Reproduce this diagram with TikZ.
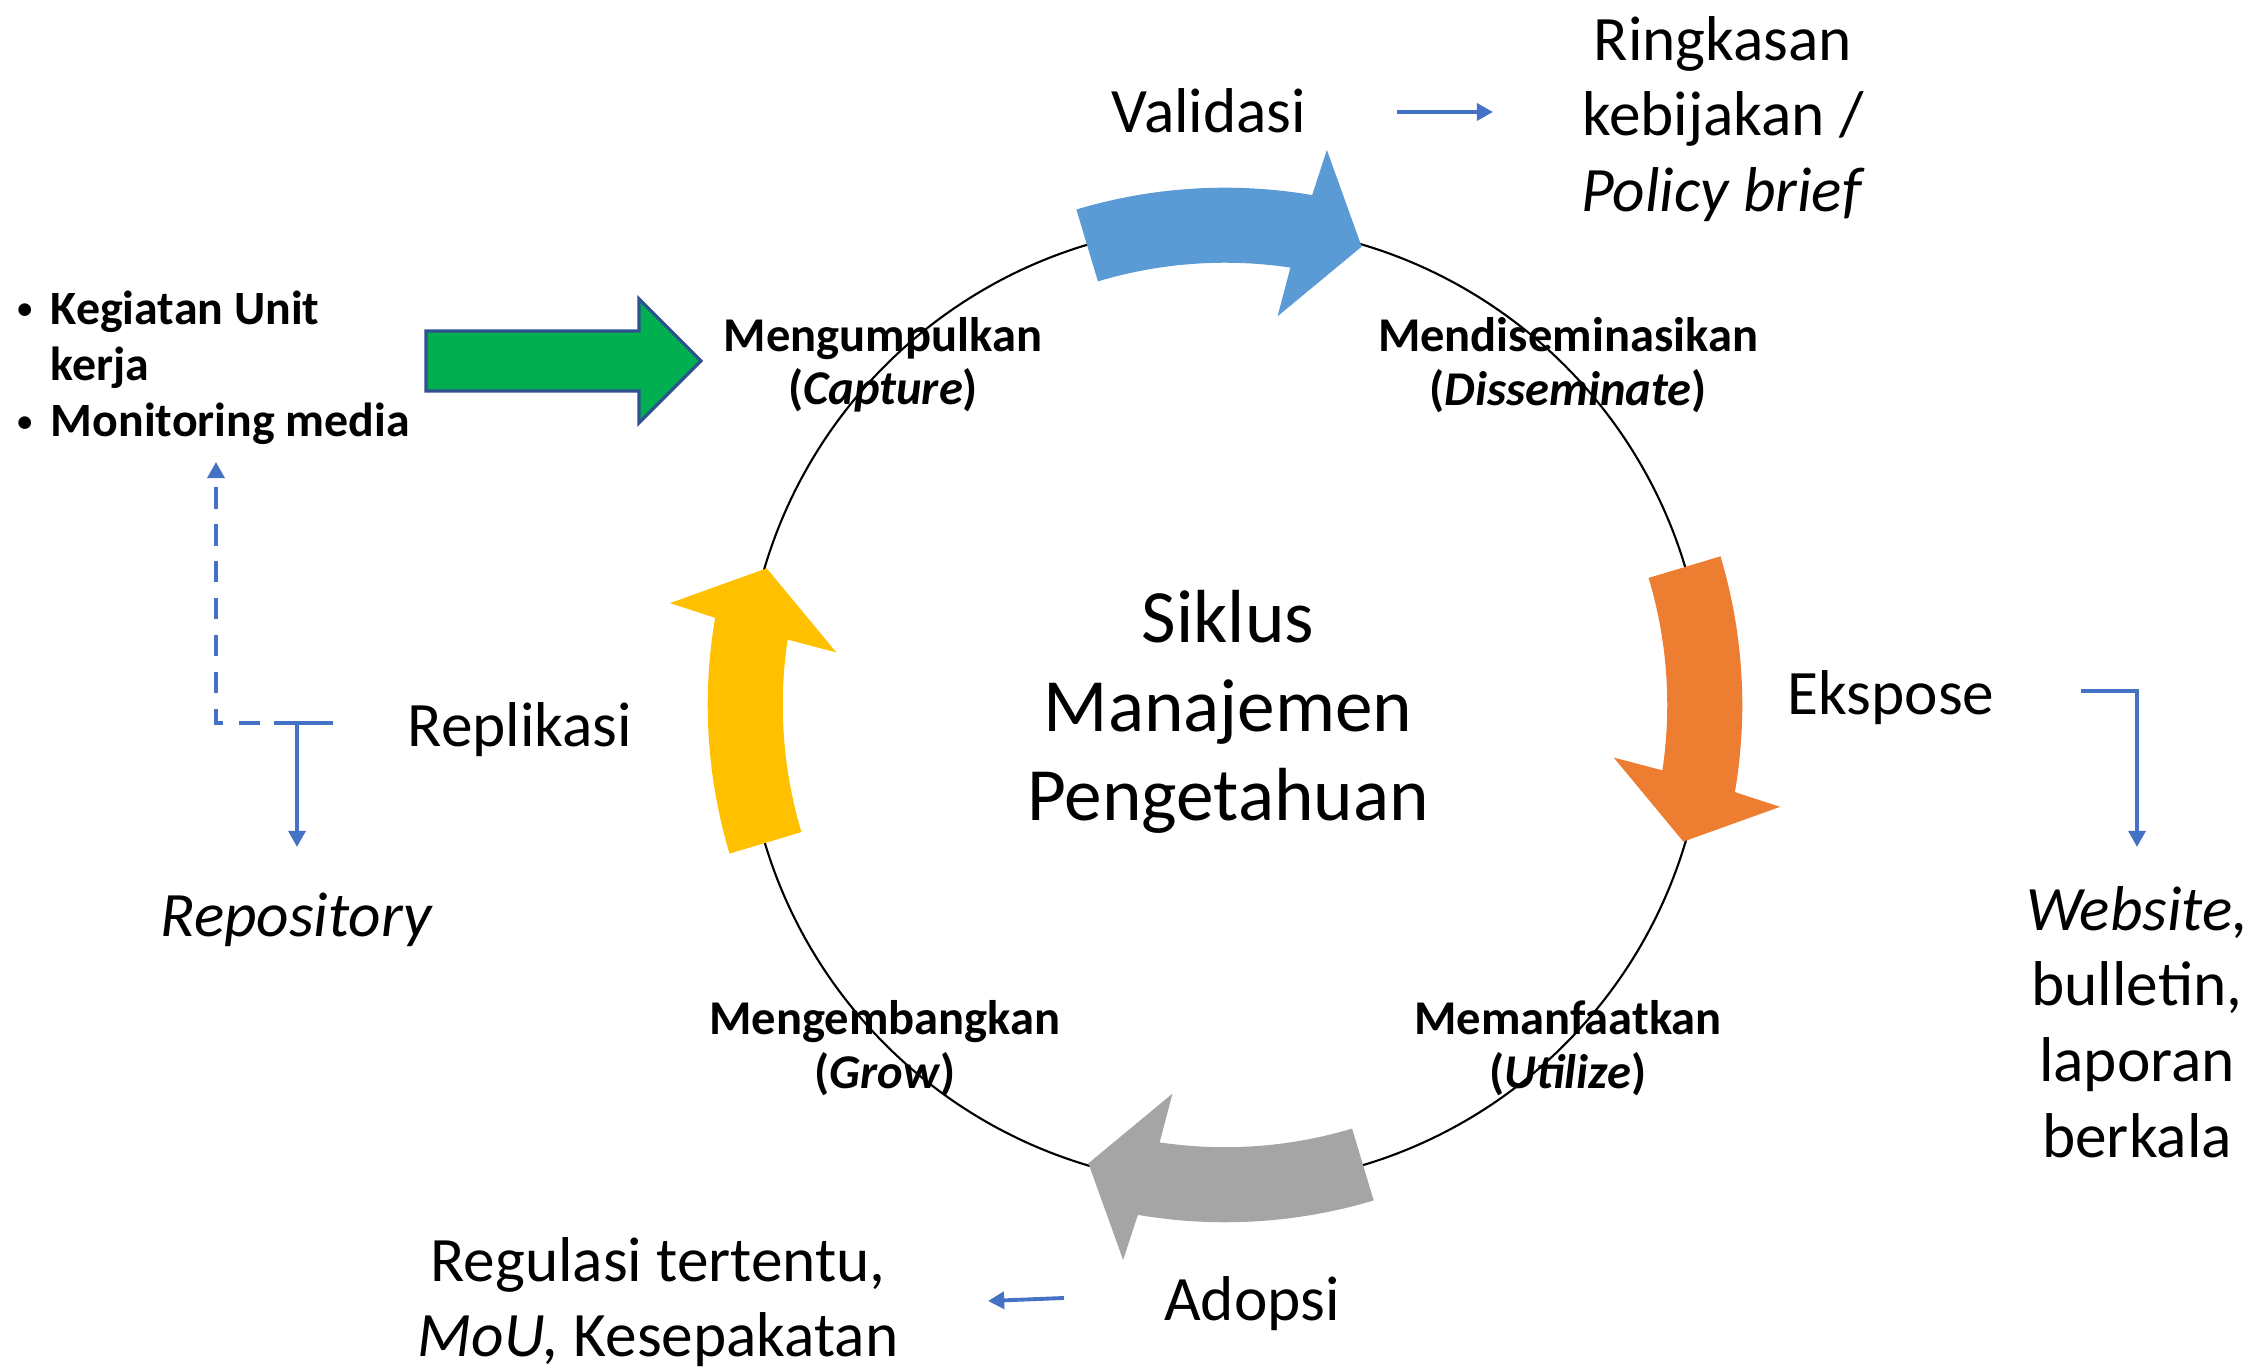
\documentclass[tikz,border=0pt]{standalone}
\usepackage{fontspec}
\setmainfont{Carlito}
\usetikzlibrary{arrows.meta}
\definecolor{cblue}{HTML}{4472C4}
\definecolor{abl}{HTML}{5B9BD5}
\definecolor{aor}{HTML}{ED7D31}
\definecolor{agr}{HTML}{A5A5A5}
\definecolor{aye}{HTML}{FFC000}
\definecolor{agn}{HTML}{00B050}
\definecolor{agnl}{HTML}{2F528F}
\newcommand{\cycarrow}[2]{%
  \pgfmathsetmacro{\cyS}{#1+16.7}%
  \pgfmathsetmacro{\cyE}{#1+16.7-26.4}%
  \pgfmathsetmacro{\cyB}{#1+16.7-27.1}%
  \pgfmathsetmacro{\cyT}{#1+16.7-33.3}%
  \pgfmathsetmacro{\cyI}{#1+16.7-24.4}%
  \pgfmathsetmacro{\cyN}{#1+16.7-25.2}%
  \fill[#2,shift={(C)}] (\cyS:5.17cm) arc[start angle=\cyS, end angle=\cyE, radius=5.17cm]
    -- (\cyB:5.64cm) -- (\cyT:4.78cm) -- (\cyI:3.92cm) -- (\cyN:4.42cm)
    arc[start angle=\cyN, end angle=\cyS, radius=4.42cm] -- cycle;
}
\newcommand{\smbul}{\makebox[0.8em][l]{\hspace{0.1em}\raisebox{0.12em}{\fontsize{8.5pt}{8.5pt}\selectfont\textbullet}}}
\begin{document}
\begin{tikzpicture}[x=0.01cm,y=0.01cm,
  big/.style={inner sep=0pt, align=center, font=\fontsize{18pt}{21.5pt}\selectfont},
  ttl/.style={inner sep=0pt, align=center, font=\fontsize{21.4pt}{25.3pt}\selectfont},
  lbl/.style={inner sep=0pt, align=center, font=\fontsize{13.8pt}{15.2pt}\selectfont\bfseries},
  conn/.style={draw=cblue, line width=1.1pt, -{Triangle[length=4.6pt,width=4.8pt]}},
  dconn/.style={conn, dash pattern=on 6pt off 4.5pt},
  tbar/.style={draw=cblue, line width=1.1pt}]
\useasboundingbox (0,0) rectangle (2252,1371);
\fill[white] (0,0) rectangle (2252,1371);
\coordinate (C) at (1225,666);
% cycle ring
\draw[line width=0.6pt] (C) circle[radius=4.80cm];
\cycarrow{90}{abl}
\cycarrow{0}{aor}
\cycarrow{-90}{agr}
\cycarrow{180}{aye}
% green input arrow
\draw[fill=agn, draw=agnl, line width=0.9pt] (426,980) -- (639,980) -- (639,948) -- (701,1010)
  -- (639,1072) -- (639,1040) -- (426,1040) -- cycle;
% texts
\node[ttl] (title) at (1228,659) {Siklus\\Manajemen\\Pengetahuan};
\node[lbl] (cap) at (883,1006) {Mengumpulkan\\(\textit{Capture})};
\node[lbl] (dis) at (1568,1006) {Mendiseminasikan\\(\textit{Disseminate})};
\node[lbl] (uti) at (1568,323) {Memanfaatkan\\(\textit{Utilize})};
\node[lbl] (gro) at (885,323) {Mengembangkan\\(\textit{Grow})};
\node[big] (val) at (1209,1260) {Validasi};
\node[big] (ring) at (1723,1252) {Ringkasan\\kebijakan /\\\textit{Policy brief}};
\node[big] (eks) at (1891,673) {Ekspose};
\node[big] (web) at (2137,349) {\textit{Website,}\\bulletin,\\laporan\\berkala};
\node[big] (ado) at (1252,67) {Adopsi};
\node[big] (reg) at (658,69) {Regulasi tertentu,\\\textit{MoU,} Kesepakatan};
\node[big] (rep) at (520,641) {Replikasi};
\node[big] (repo) at (297,451) {\textit{Repository}};
\node[inner sep=0pt, anchor=west, align=left, font=\fontsize{13.6pt}{16pt}\selectfont\bfseries] (src) at (12,1003)
  {\smbul Kegiatan Unit\\\hspace*{0.8em}kerja\\\smbul Monitoring media};
% connectors
\coordinate (va1) at (1397,1259);
\coordinate (va2) at (1493,1259);
\draw[conn] (va1) -- (va2);
\coordinate (ek1) at (2081,680);
\coordinate (ek2) at (2137,524);
\draw[conn] (ek1) -| (ek2);
\coordinate (ad1) at (1064,73);
\coordinate (ad2) at (988,70);
\draw[conn] (ad1) -- (ad2);
\coordinate (rp1) at (274,648);
\coordinate (rp2) at (333,648);
\coordinate (rpm) at (297,648);
\coordinate (rpd) at (297,524);
\coordinate (rpu) at (216,909);
\draw[tbar] (rp1) -- (rp2);
\draw[conn] (rpm) -- (rpd);
\draw[dconn] (rpm) -| (rpu);
\end{tikzpicture}
\end{document}
